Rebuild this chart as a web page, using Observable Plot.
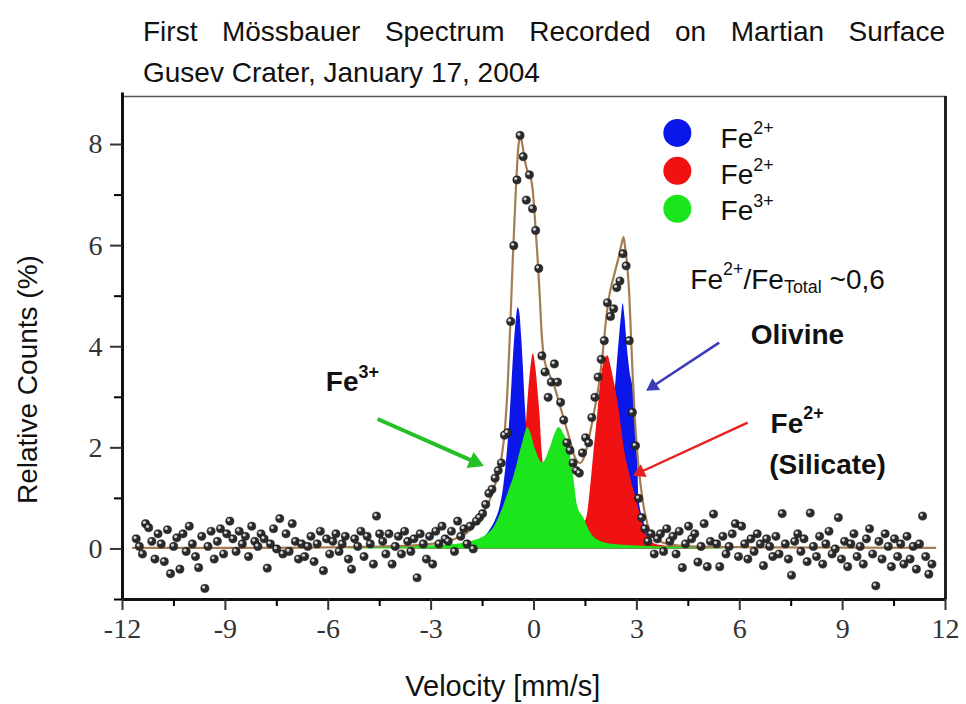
<!DOCTYPE html>
<html>
<head>
<meta charset="utf-8">
<script src="https://cdn.jsdelivr.net/npm/d3@7"></script>
<script src="https://cdn.jsdelivr.net/npm/@observablehq/plot@0.6"></script>
<style>
  html, body { margin: 0; padding: 0; background: #fff; }
  body { width: 966px; height: 704px; overflow: hidden; }
  #head { position: relative; height: 90px; font-family: "Liberation Sans", Arial, sans-serif; font-size: 28px; color: #111; }
  #t1 { position: absolute; left: 143px; top: 18px; width: 802px; line-height: 28px; text-align: justify; text-align-last: justify; }
  #t2 { position: absolute; left: 143px; top: 59px; line-height: 28px; white-space: nowrap; }
  svg { display: block; }
</style>
</head>
<body>
<div id="head">
  <div id="t1">First Mössbauer Spectrum Recorded on Martian Surface</div>
  <div id="t2">Gusev Crater, January 17, 2004</div>
</div>
<div id="chart"></div>
<script>
const velocityStart = -11.6;
const velocityStep = 0.091;
const counts = [
  0.2, 0.05, -0.1, 0.5, 0.42, 0.15, -0.2, 0.3, 0.1, -0.25,
  0.38, -0.49, 0.05, 0.22, -0.4, 0.3, -0.05, 0.45, 0.1, -0.15,
  -0.37, 0.25, -0.78, 0.05, 0.35, -0.2, 0.15, 0.4, -0.1, 0.3,
  0.55, 0.2, -0.05, 0.35, 0.1, 0.25, -0.15, 0.45, 0.15, 0.05,
  0.3, 0.2, -0.38, 0.1, 0.4, 0.0, 0.6, -0.1, 0.3, -0.05,
  0.5, 0.15, -0.2, 0.1, -0.15, 0.05, 0.25, -0.25, 0.1, 0.35,
  -0.43, 0.2, -0.1, 0.15, 0.3, -0.05, 0.1, 0.25, -0.2, -0.4,
  0.2, 0.05, 0.35, -0.15, 0.25, 0.1, -0.3, 0.65, 0.3, 0.15,
  -0.1, 0.3, -0.3, 0.05, 0.25, -0.1, 0.35, 0.15, -0.05, 0.2,
  -0.57, 0.3, 0.1, -0.2, 0.25, -0.3, 0.35, 0.1, 0.45, 0.2,
  0.15, 0.35, -0.05, 0.55, 0.25, 0.4, 0.1, 0.45, 0.0, 0.55,
  0.62, 0.7, 0.88, 1.1, 1.18, 1.4, 1.55, 1.7, 2.25, 2.3,
  4.5, 6.0, 7.3, 8.18, 7.76, 6.9, 7.4, 6.73, 6.3, 5.55,
  3.82, 3.5, 3.0, 3.3, 3.66, 3.3, 2.9, 2.55, 2.1, 1.95,
  1.7, 1.55, 1.5, 1.9, 2.2, 2.1, 2.6, 3.0, 3.4, 3.75,
  4.12, 4.87, 4.6, 4.75, 5.17, 5.3, 5.84, 5.6, 4.12, 2.7,
  2.04, 1.0, 0.62, 0.4, 0.15, 0.3, -0.1, 0.2, 0.3, -0.05,
  0.4, 0.15, 0.25, -0.1, 0.35, -0.37, 0.1, 0.45, 0.2, 0.3,
  -0.26, 0.05, 0.5, -0.35, 0.15, 0.69, 0.1, -0.35, 0.25, -0.1,
  0.05, 0.3, 0.5, -0.15, 0.45, 0.1, -0.2, 0.2, -0.05, 0.3,
  0.1, -0.33, 0.2, 0.05, -0.15, 0.25, -0.1, 0.7, 0.1, -0.2,
  -0.52, 0.15, 0.3, -0.05, 0.2, -0.25, 0.71, 0.05, -0.15, 0.25,
  -0.3, 0.1, 0.35, -0.1, 0.0, 0.62, -0.2, 0.15, -0.35, 0.1,
  0.3, -0.15, 0.05, -0.3, 0.2, 0.4, -0.1, -0.73, 0.15, -0.2,
  0.3, 0.05, -0.35, 0.2, -0.15, 0.1, -0.3, 0.25, -0.2, 0.05,
  -0.4, 0.1, 0.65, -0.15, -0.5, -0.3
];

// ---- fitted envelope ----
const envX = [-11.7, -8, -5, -3.5, -2.8, -2.3, -2.0, -1.75, -1.5, -1.3, -1.1, -0.95, -0.85, -0.77, -0.7, -0.62, -0.52, -0.45, -0.4, -0.34, -0.27, -0.18, -0.1, -0.03, 0.03, 0.1, 0.16, 0.22, 0.3, 0.45, 0.6, 0.75, 0.9, 1.05, 1.2, 1.35, 1.5, 1.62, 1.75, 1.88, 2.0, 2.08, 2.18, 2.33, 2.48, 2.56, 2.61, 2.66, 2.72, 2.78, 2.83, 2.88, 2.94, 3.0, 3.07, 3.15, 3.25, 3.38, 3.55, 3.9, 4.6, 7, 11.7];
const envY = [0.02, 0.02, 0.04, 0.07, 0.12, 0.2, 0.3, 0.45, 0.7, 0.95, 1.35, 1.8, 2.35, 3.2, 4.3, 5.7, 7.25, 8.0, 8.15, 8.0, 7.7, 7.45, 7.35, 7.05, 6.5, 5.8, 5.1, 4.3, 3.75, 3.45, 3.2, 2.85, 2.5, 2.15, 1.8, 1.7, 1.9, 2.25, 2.7, 3.2, 3.85, 4.4, 4.95, 5.4, 5.8, 6.05, 6.17, 5.95, 5.6, 5.0, 4.2, 3.4, 2.6, 2.0, 1.5, 1.05, 0.65, 0.35, 0.2, 0.1, 0.05, 0.03, 0.02];

// ---- subspectra ----
const olivineX = [-3.5, -3, -2, -1.6, -1.3, -1.1, -1.0, -0.88, -0.78, -0.7, -0.64, -0.58, -0.52, -0.46, -0.41, -0.36, -0.31, -0.25, -0.15, 0.0, 0.2, 0.5, 0.9, 1.3, 1.7, 2.0, 2.2, 2.35, 2.47, 2.55, 2.6, 2.65, 2.72, 2.8, 2.9, 2.97, 3.02, 3.06, 3.2, 3.4, 3.6, 4.2, 5];
const olivineY = [0.0, 0.02, 0.06, 0.15, 0.35, 0.6, 0.8, 1.25, 1.9, 2.6, 3.3, 4.0, 4.5, 4.77, 4.65, 4.2, 3.6, 2.8, 1.9, 1.2, 0.75, 0.5, 0.4, 0.35, 0.6, 1.1, 2.0, 3.0, 4.0, 4.6, 4.85, 4.6, 4.0, 3.5, 3.1, 2.4, 2.0, 1.0, 0.55, 0.16, 0.07, 0.03, 0.0];
const silicateX = [-4, -3, -2.2, -1.6, -1.2, -0.8, -0.5, -0.35, -0.27, -0.2, -0.13, -0.07, -0.02, 0.05, 0.12, 0.18, 0.22, 0.28, 0.35, 0.5, 0.8, 1.2, 1.45, 1.55, 1.67, 1.76, 1.86, 1.95, 2.05, 2.15, 2.25, 2.33, 2.45, 2.55, 2.63, 2.8, 2.98, 3.15, 3.38, 3.6, 4.5, 5.5];
const silicateY = [0.0, 0.03, 0.08, 0.15, 0.25, 0.45, 0.9, 1.4, 2.0, 2.7, 3.32, 3.7, 3.86, 3.6, 3.1, 2.6, 2.1, 1.6, 1.2, 0.8, 0.5, 0.4, 0.5, 0.65, 1.35, 2.0, 2.67, 3.33, 3.7, 3.82, 3.6, 3.33, 2.9, 2.4, 2.0, 1.45, 1.0, 0.55, 0.16, 0.08, 0.03, 0.0];
const ferricX = [-5.5, -5.0, -4, -3, -2.5, -2.0, -1.75, -1.46, -1.3, -1.17, -1.05, -0.91, -0.73, -0.6, -0.48, -0.35, -0.23, -0.18, -0.1, 0.05, 0.25, 0.45, 0.6, 0.73, 0.85, 1.02, 1.17, 1.27, 1.46, 1.6, 1.8, 2.2, 3, 4, 5.4, 5.6];
const ferricY = [0.0, 0.03, 0.04, 0.06, 0.08, 0.12, 0.16, 0.24, 0.32, 0.42, 0.58, 0.8, 1.15, 1.4, 1.7, 2.05, 2.34, 2.4, 2.3, 1.95, 1.7, 1.95, 2.25, 2.4, 2.3, 2.0, 1.35, 0.85, 0.6, 0.38, 0.2, 0.1, 0.06, 0.04, 0.03, 0.0];

// ---- legend & annotations ----
const legendLabels = ["Fe^{2+}", "Fe^{2+}", "Fe^{3+}"];
const legendColors = ["#0b16e8", "#f01212", "#1be61b"];
const ratioLabel = "Fe^{2+}/Fe_{Total} ~0,6";
const noteLabels = ["Fe^{3+}", "Olivine", "Fe^{2+}", "(Silicate)"];
const noteX = [-6.07, 6.32, 6.9, 6.86];
const noteY = [3.12, 4.06, 2.3, 1.48];
const arrowFromX = [-4.56, 5.4, 6.23];
const arrowFromY = [2.57, 4.08, 2.5];
const arrowToX = [-1.46, 3.27, 2.88];
const arrowToY = [1.64, 3.13, 1.45];
const arrowColors = ["#25c025", "#3c3cb8", "#e82020"];

const xTicks = [-12, -9, -6, -3, 0, 3, 6, 9, 12];
const xMinorTicks = [-10.5, -7.5, -4.5, -1.5, 1.5, 4.5, 7.5, 10.5];
const yTicks = [0, 2, 4, 6, 8];
const yMinorTicks = [-1, 1, 3, 5, 7];

// ---- layout ----
const W = 966, H = 614, mL = 122, mR = 21, mT = 6, mB = 105;
const xDomain = [-12, 12], yDomain = [-1, 8.95];
const arrowWidths = [4, 2.6, 2.4];
const arrowHeadR = [6.5, 5.2, 5.2];

// ---- tables ----
const spectrum = counts.map((c, i) => ({v: velocityStart + i * velocityStep, c}));
const zip = (xs, ys) => xs.map((x, i) => ({x, y: ys[i]}));
const envelope = zip(envX, envY);
const olivine = zip(olivineX, olivineY);
const silicate = zip(silicateX, silicateY);
const ferric = zip(ferricX, ferricY);
const legend = legendLabels.map((label, i) => ({label, color: legendColors[i], i}));
const notes = noteLabels.map((t, i) => ({t, x: noteX[i], y: noteY[i]}));

// arrow shafts and filled heads (direction measured in screen space)
const xs = d3.scaleLinear(xDomain, [mL, W - mR]);
const ys = d3.scaleLinear(yDomain, [H - mB, mT]);
const arrows = arrowFromX.map((x1, i) => {
  const px1 = xs(x1), py1 = ys(arrowFromY[i]), px2 = xs(arrowToX[i]), py2 = ys(arrowToY[i]);
  const dx = px2 - px1, dy = py2 - py1, len = Math.hypot(dx, dy);
  const r = arrowHeadR[i], back = 1.555 * r;
  return {
    x1, y1: arrowFromY[i],
    hx: xs.invert(px2 - dx / len * back), hy: ys.invert(py2 - dy / len * back),
    rotate: Math.atan2(dy, dx) * 180 / Math.PI + 90,
    r, w: arrowWidths[i], color: arrowColors[i]
  };
});

const sans = "Liberation Sans, Arial, sans-serif";
const serif = "Liberation Serif, Times New Roman, serif";

const chart = Plot.plot({
  width: W,
  height: H,
  marginLeft: mL,
  marginRight: mR,
  marginTop: mT,
  marginBottom: mB,
  x: {domain: xDomain},
  y: {domain: yDomain},
  r: {type: "identity"},
  style: {fontFamily: sans, background: "white", overflow: "visible"},
  marks: [
    Plot.areaY(olivine, {x: "x", y: "y", fill: legendColors[0], curve: "monotone-x"}),
    Plot.areaY(silicate, {x: "x", y: "y", fill: legendColors[1], curve: "monotone-x"}),
    Plot.areaY(ferric, {x: "x", y: "y", fill: legendColors[2], curve: "monotone-x"}),
    Plot.line(envelope, {x: "x", y: "y", stroke: "#a57d55", strokeWidth: 2.2, curve: "monotone-x"}),
    Plot.dot(spectrum, {x: "v", y: "c", r: 4.1, fill: "#2b2b2b", stroke: "#111", strokeWidth: 0.5}),
    Plot.dot(spectrum, {x: "v", y: "c", r: 1.6, fill: "#cfcfcf", dx: -1.2, dy: -1.3}),
    Plot.link(arrows, {x1: "x1", y1: "y1", x2: "hx", y2: "hy", stroke: "color", strokeWidth: "w"}),
    Plot.dot(arrows, {x: "hx", y: "hy", r: "r", rotate: "rotate", symbol: "triangle", fill: "color", stroke: null}),
    // legend
    Plot.dot(legend, {x: () => 4.18, y: d => 8.23 - d.i * 0.75, r: 14, fill: "color"}),
    Plot.text(legend, {x: () => 5.44, y: d => 7.94 - d.i * 0.72, text: "label", textAnchor: "start", lineAnchor: "bottom", fontSize: 28, fill: "#111"}),
    Plot.text([ratioLabel], {x: () => 4.56, y: () => 5.15, text: d => d, textAnchor: "start", lineAnchor: "bottom", fontSize: 28, fill: "#111"}),
    // annotations
    Plot.text(notes, {x: "x", y: "y", text: "t", textAnchor: "start", lineAnchor: "bottom", fontSize: 28, fontWeight: "bold", fill: "#111"}),
    // frame
    Plot.frame({stroke: "#555", strokeWidth: 1.5}),
    Plot.ruleX([12], {stroke: "#222", strokeWidth: 3}),
    Plot.ruleX([-12], {stroke: "#111", strokeWidth: 3, y1: -1, y2: 9.02}),
    Plot.ruleY([-1], {stroke: "#111", strokeWidth: 3}),
    // axes
    Plot.axisX(xTicks, {tickSize: 11, tickPadding: 8, fontSize: 28, fontFamily: serif, tickFormat: d => String(d), label: null, strokeWidth: 2, color: "#333"}),
    Plot.axisX(xMinorTicks, {tickSize: 7, text: null, label: null, strokeWidth: 2}),
    Plot.axisY(yTicks, {tickSize: 12, tickPadding: 8, fontSize: 28, fontFamily: serif, tickFormat: d => String(d), label: null, strokeWidth: 2, color: "#333"}),
    Plot.axisY(yMinorTicks, {tickSize: 8, text: null, label: null, strokeWidth: 2}),
    // axis titles
    Plot.text(["Velocity [mm/s]"], {x: () => -0.91, frameAnchor: "bottom", dy: 87, text: d => d, fontSize: 29, lineAnchor: "middle", fill: "#111"}),
    Plot.text(["Relative Counts (%)"], {y: () => 3.35, frameAnchor: "left", dx: -94, rotate: -90, text: d => d, textAnchor: "middle", fontSize: 28, lineAnchor: "middle", fill: "#111"})
  ]
});

document.getElementById("chart").appendChild(chart);

// rich text: ^{...} superscript, _{...} subscript
const NS = "http://www.w3.org/2000/svg";
chart.querySelectorAll("text").forEach(t => {
  const s = t.textContent;
  if (!/[\^_]\{/.test(s)) return;
  const fs = parseFloat(getComputedStyle(t).fontSize) || 28;
  const re = /(\^|_)\{([^}]*)\}|([^\^_]+)/g;
  let m, shift = 0;
  while (t.firstChild) t.removeChild(t.firstChild);
  while ((m = re.exec(s))) {
    const span = document.createElementNS(NS, "tspan");
    let target = 0, txt;
    if (m[1]) {
      txt = m[2];
      target = m[1] === "^" ? -0.48 * fs : 0.16 * fs;
      span.setAttribute("font-size", (0.64 * fs) + "px");
    } else {
      txt = m[3];
    }
    const dy = target - shift;
    if (dy !== 0) span.setAttribute("dy", dy);
    shift = target;
    span.textContent = txt;
    t.appendChild(span);
  }
});
</script>
</body>
</html>
